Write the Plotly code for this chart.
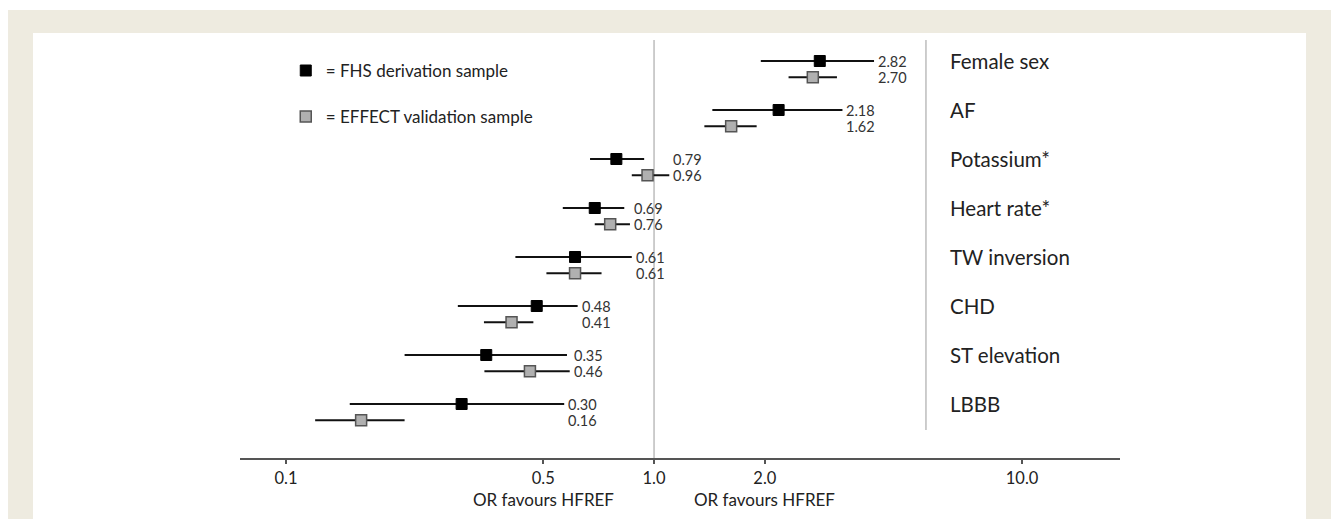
import math
import plotly.graph_objects as go

# ---- data ----
categories = ["Female sex", "AF", "Potassium*", "Heart rate*", "TW inversion", "CHD", "ST elevation", "LBBB"]
fhs_or = [2.82, 2.18, 0.79, 0.69, 0.61, 0.48, 0.35, 0.30]
fhs_lo = [1.95, 1.44, 0.67, 0.565, 0.42, 0.293, 0.21, 0.149]
fhs_hi = [3.96, 3.25, 0.94, 0.83, 0.87, 0.62, 0.58, 0.57]
eff_or = [2.70, 1.62, 0.96, 0.76, 0.61, 0.41, 0.46, 0.16]
eff_lo = [2.32, 1.37, 0.87, 0.69, 0.51, 0.345, 0.346, 0.12]
eff_hi = [3.14, 1.90, 1.10, 0.86, 0.72, 0.47, 0.59, 0.21]
tick_vals = [0.1, 0.5, 1.0, 2.0, 10.0]
tick_text = ["0.1", "0.5", "1.0", "2.0", "10.0"]
series_names = ["= FHS derivation sample", "= EFFECT validation sample"]
favours_text = "OR favours HFREF"

FONT = "Lato, 'Open Sans', sans-serif"
OFFSET = 0.33
y_fhs = [-i for i in range(len(categories))]
y_eff = [-i - OFFSET for i in range(len(categories))]

fig = go.Figure()
fig.add_trace(go.Scatter(
    x=fhs_or, y=y_fhs, mode="markers", name=series_names[0], legendgroup="a",
    marker=dict(symbol="square", size=11, color="#000000", line=dict(color="#000000", width=1)),
    error_x=dict(type="data", symmetric=False,
                 array=[h - v for h, v in zip(fhs_hi, fhs_or)],
                 arrayminus=[v - l for v, l in zip(fhs_or, fhs_lo)],
                 color="#111111", thickness=2, width=0),
))
fig.add_trace(go.Scatter(
    x=eff_or, y=y_eff, mode="markers", name=series_names[1], legendgroup="b",
    marker=dict(symbol="square", size=11, color="#b0b0b0", line=dict(color="#555555", width=1.5)),
    error_x=dict(type="data", symmetric=False,
                 array=[h - v for h, v in zip(eff_hi, eff_or)],
                 arrayminus=[v - l for v, l in zip(eff_or, eff_lo)],
                 color="#111111", thickness=2, width=0),
))

# value labels and category labels
for i in range(len(categories)):
    xl = math.log10(max(fhs_hi[i], eff_hi[i]))
    for val, yy in ((fhs_or[i], y_fhs[i]), (eff_or[i], y_eff[i])):
        fig.add_annotation(x=xl, y=yy, xref="x", yref="y", text=f"{val:.2f}", showarrow=False,
                           xanchor="left", yanchor="middle", xshift=2,
                           font=dict(family=FONT, size=14.5, color="#333333"))
    fig.add_annotation(x=0.8045, y=y_fhs[i], xref="paper", yref="y", text=categories[i], showarrow=False,
                       xanchor="left", yanchor="middle",
                       font=dict(family=FONT, size=20.5, color="#222222"))

# favours annotations
for v in (0.5, 2.0):
    fig.add_annotation(x=math.log10(v), y=-0.10, xref="x", yref="paper", text=favours_text,
                       showarrow=False, xanchor="center", yanchor="middle",
                       font=dict(family=FONT, size=17, color="#222222"))

# background frame
fig.add_shape(type="rect", xref="paper", yref="paper", x0=-0.2636, x1=1.2398, y0=-0.3, y1=1.0718,
              fillcolor="#eeebe0", line=dict(width=0), layer="below")
fig.add_shape(type="rect", xref="paper", yref="paper", x0=-0.2352, x1=1.2114, y0=-0.3, y1=1.0167,
              fillcolor="#ffffff", line=dict(width=0), layer="below")
# reference line at OR = 1
fig.add_shape(type="line", xref="x", yref="paper", x0=1.0, x1=1.0, y0=0, y1=1,
              line=dict(color="#bdbdbd", width=1.5), layer="below")
# separator line
fig.add_shape(type="line", xref="paper", yref="paper", x0=0.7795, x1=0.7795, y0=0.067, y1=1,
              line=dict(color="#bdbdbd", width=1.5), layer="below")

fig.update_layout(
    width=1331, height=511,
    margin=dict(l=232, r=219, t=32, b=61, autoexpand=False),
    paper_bgcolor="#ffffff", plot_bgcolor="rgba(0,0,0,0)",
    showlegend=True,
    legend=dict(xref="paper", yref="paper", x=0.052, y=0.969, xanchor="left", yanchor="top",
                traceorder="grouped", tracegroupgap=21, bgcolor="rgba(0,0,0,0)",
                font=dict(family=FONT, size=17, color="#222222"), itemwidth=30),
    xaxis=dict(type="log", range=[-1.125, 1.266], tickvals=tick_vals, ticktext=tick_text,
               showgrid=False, zeroline=False, showline=True, linecolor="#555555", linewidth=2,
               ticks="outside", ticklen=4, tickwidth=1.5, tickcolor="#555555",
               tickfont=dict(family=FONT, size=16.5, color="#222222")),
    yaxis=dict(range=[-8.102, 0.4286], visible=False, showgrid=False, zeroline=False),
)

fig.write_html("out.html")
